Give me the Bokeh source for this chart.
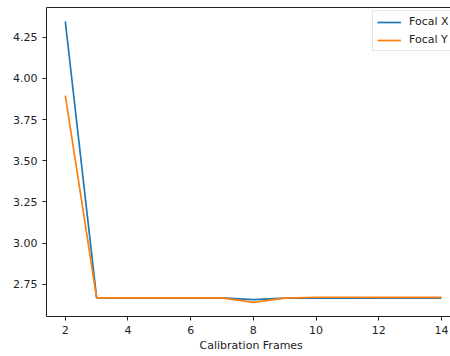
from bokeh.plotting import figure
from bokeh.models import Range1d, FixedTicker, PrintfTickFormatter, LinearAxis, Legend, LegendItem, Title
from bokeh.embed import file_html
from bokeh.resources import INLINE

frames = [2, 3, 4, 5, 6, 7, 8, 9, 10, 11, 12, 13, 14]
focal_x = [4.345, 2.667, 2.667, 2.667, 2.667, 2.667, 2.657, 2.665, 2.665, 2.665, 2.665, 2.665, 2.665]
focal_y = [3.895, 2.667, 2.667, 2.667, 2.667, 2.667, 2.640, 2.666, 2.671, 2.671, 2.670, 2.670, 2.670]
x_ticks = [2, 4, 6, 8, 10, 12, 14]
y_ticks = [2.75, 3.00, 3.25, 3.50, 3.75, 4.00, 4.25]

FONT = "DejaVu Sans"
FS = "11px"

p = figure(width=450, height=356, output_backend="svg", toolbar_location=None,
           x_range=Range1d(1.4, 14.29), y_range=Range1d(2.554, 4.430),
           min_border_left=46, min_border_right=0, min_border_top=7, min_border_bottom=40)
p.outline_line_color = None
p.xgrid.visible = False
p.ygrid.visible = False
p.background_fill_color = "white"
p.border_fill_color = "white"

r1 = p.line(frames, focal_x, line_color="#1f77b4", line_width=1.7)
r2 = p.line(frames, focal_y, line_color="#ff7f0e", line_width=1.7)

for ax in (p.xaxis[0], p.yaxis[0]):
    ax.axis_line_color = "#222222"
    ax.axis_line_width = 1
    ax.major_tick_line_color = "#222222"
    ax.major_tick_out = 4
    ax.major_tick_in = 0
    ax.minor_tick_out = 0
    ax.minor_tick_in = 0
    ax.major_label_text_font = FONT
    ax.major_label_text_font_size = FS
    ax.major_label_text_color = "#222222"
    ax.major_label_standoff = 5

p.xaxis[0].ticker = FixedTicker(ticks=x_ticks)
p.yaxis[0].ticker = FixedTicker(ticks=y_ticks)
p.yaxis[0].formatter = PrintfTickFormatter(format="%.2f")

# axis title as a below-title, positioned to sit centred on the full (cropped) axes
p.add_layout(Title(text="Calibration Frames", align="left", offset=153, standoff=1,
                   text_font=FONT, text_font_size=FS, text_font_style="normal",
                   text_color="#222222"), "below")

top = LinearAxis(ticker=FixedTicker(ticks=[]), major_label_text_font_size="0px",
                 major_tick_out=0, major_tick_in=0, minor_tick_out=0, minor_tick_in=0,
                 axis_line_color="#222222")
p.add_layout(top, "above")

legend = Legend(items=[LegendItem(label="Focal X", renderers=[r1]),
                       LegendItem(label="Focal Y", renderers=[r2])],
                location=(326, 265), padding=4, spacing=5, margin=0,
                glyph_width=24, glyph_height=12, label_height=12, label_standoff=8,
                label_width=60,
                label_text_font=FONT, label_text_font_size=FS, label_text_color="#222222",
                border_line_color="#cccccc", border_line_width=1,
                background_fill_color="white", background_fill_alpha=0.8)
p.add_layout(legend, "center")

open("out.html", "w").write(file_html(p, INLINE))
